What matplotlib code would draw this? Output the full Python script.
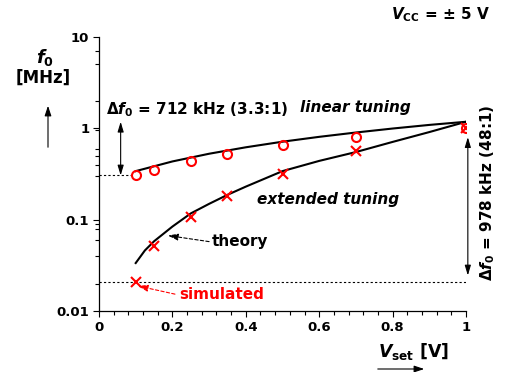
import matplotlib
matplotlib.use("Agg")
import matplotlib.pyplot as plt
import numpy as np

plt.rcParams['font.family'] = ['DejaVu Sans']
plt.rcParams['font.weight'] = 'bold'
plt.rcParams['mathtext.fontset'] = 'custom'
plt.rcParams['mathtext.rm'] = 'DejaVu Sans:bold'
plt.rcParams['mathtext.it'] = 'DejaVu Sans:bold:italic'
plt.rcParams['mathtext.bf'] = 'DejaVu Sans:bold'
plt.rcParams['mathtext.sf'] = 'DejaVu Sans:bold'

# ---- data ----
V_sim = [0.1, 0.15, 0.25, 0.35, 0.5, 0.7, 1.0]
f_lin_sim = [0.31, 0.35, 0.44, 0.52, 0.65, 0.81, 1.02]
f_ext_sim = [0.021, 0.051, 0.108, 0.182, 0.32, 0.56, 1.0]

V_lin_theory = [0.1, 0.2, 0.3, 0.4, 0.5, 0.6, 0.7, 0.8, 0.9, 1.0]
f_lin_theory = [0.34, 0.434, 0.527, 0.62, 0.714, 0.807, 0.90, 0.995, 1.09, 1.18]

V_ext_theory = [0.1, 0.125, 0.15, 0.2, 0.25, 0.3, 0.35, 0.4, 0.5, 0.6, 0.7, 0.8, 0.9, 1.0]
f_ext_theory = [0.0335, 0.046, 0.058, 0.084, 0.117, 0.149, 0.187, 0.23, 0.34, 0.44, 0.55, 0.71, 0.91, 1.18]

x_ticks = [0, 0.2, 0.4, 0.6, 0.8, 1.0]
x_tick_labels = ['0', '0.2', '0.4', '0.6', '0.8', '1']
y_ticks = [0.01, 0.1, 1, 10]
y_tick_labels = ['0.01', '0.1', '1', '10']
y_minor = [0.02, 0.04, 0.06, 0.08, 0.09, 0.3, 0.4, 0.5, 0.6, 0.95, 2, 5, 7]

W, H = 508, 372
fig = plt.figure(figsize=(W / 100, H / 100), dpi=100)
ax = fig.add_axes([99 / W, 1 - 311 / H, (466 - 99) / W, (311 - 37) / H])

red = '#ff0000'
ax.plot(V_lin_theory, f_lin_theory, color='black', lw=1.5, zorder=3)
ax.plot(V_ext_theory, f_ext_theory, color='black', lw=1.5, zorder=3)
ax.plot(V_sim, f_lin_sim, linestyle='none', marker='o', ms=6.5, mfc='none',
        mec=red, mew=1.5, zorder=4)
ax.plot(V_sim, f_ext_sim, linestyle='none', marker='x', ms=7, mec=red,
        mew=1.5, zorder=4)

ax.set_yscale('log')
ax.set_xlim(0, 1)
ax.set_ylim(0.01, 10)
ax.set_xticks(x_ticks)
ax.set_xticklabels(x_tick_labels)
ax.set_xticks(np.arange(0, 1.001, 0.04), minor=True)
ax.set_yticks(y_ticks)
ax.set_yticklabels(y_tick_labels)
ax.set_yticks(y_minor, minor=True)
ax.yaxis.set_minor_formatter(matplotlib.ticker.NullFormatter())
ax.tick_params(axis='both', which='major', direction='out', length=4, width=0.8,
               labelsize=9.5, pad=3)
ax.tick_params(axis='both', which='minor', direction='out', length=3, width=0.8)
for lab in ax.get_xticklabels() + ax.get_yticklabels():
    lab.set_fontweight('bold')
ax.spines['top'].set_visible(False)
ax.spines['right'].set_visible(False)
ax.spines['left'].set_linewidth(0.9)
ax.spines['bottom'].set_linewidth(0.9)

# dotted reference lines
ax.plot([0, 0.09], [f_lin_sim[0] * 0.985, f_lin_sim[0] * 0.985], color='black',
        lw=0.8, linestyle=(0, (2, 2)))
ax.plot([0, 1.0], [f_ext_sim[0], f_ext_sim[0]], color='black', lw=0.8,
        linestyle=(0, (2, 2)))

# double arrows
dstyle = '<|-|>,head_length=0.6,head_width=0.18'
ax.annotate('', xy=(0.059, 1.18), xytext=(0.059, 0.305),
            arrowprops=dict(arrowstyle=dstyle, color='black', lw=0.8,
                            shrinkA=0, shrinkB=0, mutation_scale=10))
ax.annotate('', xy=(1.005, 0.80), xytext=(1.005, 0.0245),
            arrowprops=dict(arrowstyle=dstyle, color='black', lw=0.8,
                            shrinkA=0, shrinkB=0, mutation_scale=10),
            annotation_clip=False)

# texts
fs = 11
ax.text(0.019, 1.586, r'$\Delta f_0$ = 712 kHz (3.3:1)', fontsize=fs,
        ha='left', va='center', fontweight='bold')
ax.text(0.548, 1.67, 'linear tuning', fontsize=fs, ha='left', va='center',
        fontweight='bold', style='italic')
ax.text(0.431, 0.168, 'extended tuning', fontsize=fs, ha='left', va='center',
        fontweight='bold', style='italic')
ax.text(0.308, 0.0573, 'theory', fontsize=fs, ha='left', va='center',
        fontweight='bold')
ax.text(0.218, 0.0150, 'simulated', fontsize=fs, ha='left', va='center',
        fontweight='bold', color=red)
ax.annotate('', xy=(0.188, 0.0670), xytext=(0.30, 0.0575),
            arrowprops=dict(arrowstyle='-|>,head_length=0.6,head_width=0.2',
                            color='black', lw=0.8, linestyle=(0, (3, 2)),
                            shrinkA=0, shrinkB=0, mutation_scale=10))
ax.annotate('', xy=(0.106, 0.0188), xytext=(0.207, 0.0153),
            arrowprops=dict(arrowstyle='-|>,head_length=0.6,head_width=0.2',
                            color=red, lw=0.8, linestyle=(0, (3, 2)),
                            shrinkA=0, shrinkB=0, mutation_scale=10))
ax.text(1.058, 0.196, r'$\Delta f_0$ = 978 kHz (48:1)', fontsize=fs,
        rotation=90, ha='center', va='center', fontweight='bold', clip_on=False)

fig.text(490 / W, 1 - 15 / H, r'$V_{\mathrm{CC}}$ = ± 5 V', fontsize=11,
         ha='right', va='center', fontweight='bold')
fig.text(45 / W, 1 - 57 / H, r'$f_0$', fontsize=13, ha='center', va='center')
fig.text(43.5 / W, 1 - 78 / H, '[MHz]', fontsize=12, ha='center', va='center',
         fontweight='bold')
fig.text(378 / W, 1 - 351.7 / H, r'$V_{\mathrm{set}}$ [V]', fontsize=12.5,
         ha='left', va='center', fontweight='bold')
fig.add_artist(matplotlib.patches.FancyArrowPatch(
    (48 / W, 1 - 150 / H), (48 / W, 1 - 103 / H), transform=fig.transFigure,
    arrowstyle='-|>,head_length=0.6,head_width=0.2', mutation_scale=10,
    color='black', lw=0.8))
fig.add_artist(matplotlib.patches.FancyArrowPatch(
    (375 / W, 1 - 369 / H), (427 / W, 1 - 369 / H), transform=fig.transFigure,
    arrowstyle='-|>,head_length=0.6,head_width=0.2', mutation_scale=10,
    color='black', lw=0.8))

fig.savefig('out.png', dpi=100)
